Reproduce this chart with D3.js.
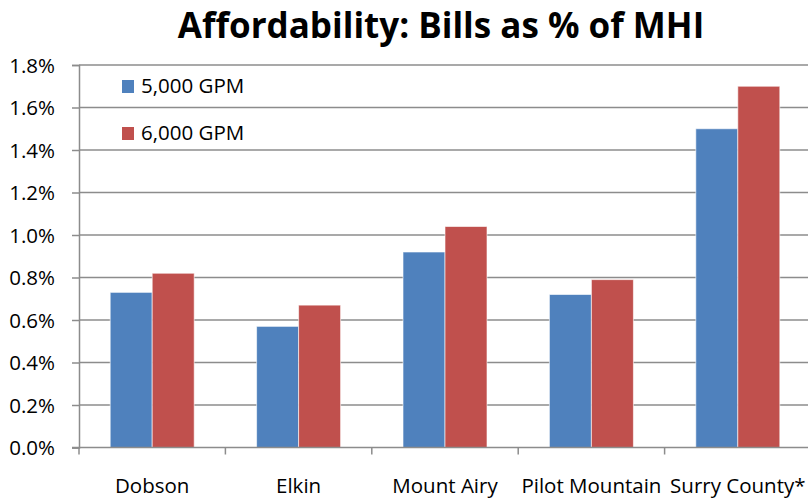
<!DOCTYPE html>
<html>
<head>
<meta charset="utf-8">
<script src="https://cdn.jsdelivr.net/npm/d3@7"></script>
<style>
  html, body { margin: 0; padding: 0; background: #fff; }
  svg { display: block; }
  text { font-family: "Open Sans", Lato, sans-serif; fill: #000; }
</style>
</head>
<body>
<svg id="chart" width="808" height="499"></svg>
<script>
// Water bills as share of median household income
const categories = ["Dobson", "Elkin", "Mount Airy", "Pilot Mountain", "Surry County*"];
const seriesNames = ["5,000 GPM", "6,000 GPM"];
const gpm5000 = [0.73, 0.57, 0.92, 0.72, 1.50];
const gpm6000 = [0.82, 0.67, 1.04, 0.79, 1.70];
const yTicks = [0, 0.2, 0.4, 0.6, 0.8, 1.0, 1.2, 1.4, 1.6, 1.8];
const colors = ["#4F81BD", "#C0504D"];

const series = [gpm5000, gpm6000];

const svg = d3.select("#chart");
const plotLeft = 79, plotRight = 811, plotTop = 65, plotBottom = 447.5;
const labelSize = "20.5px";

const x = d3.scaleBand().domain(categories).range([plotLeft, plotRight]).paddingInner(0).paddingOuter(0);
const y = d3.scaleLinear().domain([0, 1.8]).range([plotBottom, plotTop]);
const barW = 42;

// Title
svg.append("text")
  .attr("x", 441).attr("y", 38)
  .attr("text-anchor", "middle")
  .style("font-size", "35px").style("font-weight", "bold")
  .text("Affordability: Bills as % of MHI");

// Horizontal gridlines
svg.append("g").selectAll("line")
  .data(yTicks.filter(d => d > 0))
  .join("line")
  .attr("x1", plotLeft).attr("x2", 808)
  .attr("y1", d => y(d)).attr("y2", d => y(d))
  .attr("stroke", "#8c8c8c").attr("stroke-width", 1.5);

// Bars
categories.forEach((c, i) => {
  const cx = x(c) + x.bandwidth() / 2;
  series.forEach((vals, s) => {
    svg.append("rect")
      .attr("x", cx - barW + s * barW)
      .attr("y", y(vals[i]))
      .attr("width", barW)
      .attr("height", y(0) - y(vals[i]))
      .attr("fill", colors[s])
      .attr("stroke", "rgba(255,255,255,0.6)")
      .attr("stroke-width", 1);
  });
});

// Y axis
const yAxis = d3.axisLeft(y).tickValues(yTicks).tickSize(7)
  .tickFormat(d => d.toFixed(1) + "%");
const gy = svg.append("g").attr("transform", `translate(${plotLeft},0)`).call(yAxis);
gy.select(".domain").attr("stroke", "#8c8c8c").attr("stroke-width", 1.5);
gy.selectAll(".tick line").attr("stroke", "#8c8c8c").attr("stroke-width", 1.5);
gy.selectAll(".tick text").attr("x", -24).attr("dy", "0.36em")
  .style("font-size", labelSize).style("font-family", "'Open Sans', sans-serif").attr("fill", "#000");

// X axis
const gx = svg.append("g").attr("transform", `translate(0,${plotBottom})`);
gx.append("line").attr("x1", plotLeft - 7).attr("x2", 808)
  .attr("stroke", "#8c8c8c").attr("stroke-width", 1.5);
gx.selectAll("line.tk")
  .data(categories.map(c => x(c)).concat([x(categories[categories.length - 1]) + x.bandwidth()]))
  .join("line").attr("class", "tk")
  .attr("x1", d => d).attr("x2", d => d)
  .attr("y1", 0).attr("y2", 7)
  .attr("stroke", "#8c8c8c").attr("stroke-width", 1.5);
gx.selectAll("text")
  .data(categories)
  .join("text")
  .attr("x", d => x(d) + x.bandwidth() / 2)
  .attr("y", 45.5)
  .attr("text-anchor", "middle")
  .style("font-size", labelSize)
  .text(d => d);

// Legend
const lg = svg.append("g");
seriesNames.forEach((name, s) => {
  lg.append("rect").attr("x", 122).attr("y", 80 + s * 47).attr("width", 12).attr("height", 13)
    .attr("fill", colors[s]);
  lg.append("text").attr("x", 141).attr("y", 93 + s * 47)
    .style("font-size", labelSize).text(name);
});
</script>
</body>
</html>
